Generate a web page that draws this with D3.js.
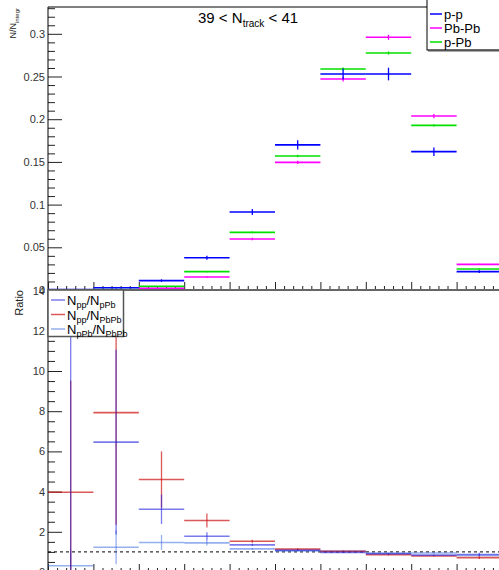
<!DOCTYPE html>
<html>
<head>
<meta charset="utf-8">
<script src="https://cdn.jsdelivr.net/npm/d3@7"></script>
<style>
  body { margin: 0; background: #fff; }
  svg { display: block; font-family: "Liberation Sans", Arial, sans-serif; }
</style>
</head>
<body>
<svg id="main_svg" width="499" height="570"></svg>
<script>
// bins of the multiplicity distribution (no x labels in the original)
const bins = [0, 1, 2, 3, 4, 5, 6, 7, 8, 9];

// top panel: normalised yields
const ppVals = [0.0004, 0.0027, 0.011, 0.0378, 0.0913, 0.170, 0.2529, 0.2529, 0.162, 0.0215];
const ppErr = [0.0004, 0.0008, 0.0015, 0.0023, 0.0035, 0.0055, 0.0065, 0.0074, 0.005, 0.0017];
const pbpbVals = [0.0001, 0.00034, 0.002, 0.0152, 0.0597, 0.1495, 0.247, 0.2959, 0.2037, 0.030];
const pbpbErr = [0.0001, 0.0002, 0.0005, 0.0009, 0.0015, 0.002, 0.0028, 0.003, 0.0025, 0.0008];
const ppbVals = [0.00003, 0.00042, 0.0043, 0.0215, 0.0675, 0.157, 0.2588, 0.2775, 0.1928, 0.0246];
const ppbErr = [0.00003, 0.0002, 0.0004, 0.0007, 0.001, 0.0015, 0.0018, 0.0018, 0.0014, 0.0006];

// bottom panel: ratios
const rPpPpb = [12.8, 6.46, 3.12, 1.78, 1.35, 1.083, 0.977, 0.911, 0.84, 0.874];
const rPpPpbErr = [13.2, 4.6, 0.73, 0.2, 0.06, 0.04, 0.03, 0.03, 0.035, 0.08];
const rPpPbpb = [3.97, 7.93, 4.6, 2.56, 1.53, 1.137, 1.024, 0.855, 0.795, 0.717];
const rPpPbpbErr = [5.55, 5.58, 1.4, 0.35, 0.08, 0.04, 0.03, 0.03, 0.03, 0.07];
const rPpbPbpb = [0.31, 1.23, 1.47, 1.45, 1.15, 1.05, 1.048, 0.938, 0.946, 0.82];
const rPpbPbpbErr = [0.78, 0.85, 0.37, 0.13, 0.04, 0.02, 0.02, 0.02, 0.02, 0.04];

const topTicks = [0, 0.05, 0.1, 0.15, 0.2, 0.25, 0.3];
const ratioTicks = [0, 2, 4, 6, 8, 10, 12, 14];

const svg = d3.select("#main_svg");
const left = 48, right = 502;
const topY0 = 7, topY1 = 290, botY0 = 290, botY1 = 572;

const x = d3.scaleLinear().domain([0, 10]).range([left, right]);
const yTop = d3.scaleLinear().domain([0, 0.3314]).range([topY1, topY0]);
const yBot = d3.scaleLinear().domain([0, 14.03]).range([botY1, botY0]);

const defs = svg.append("defs");
defs.append("clipPath").attr("id", "clipTop")
  .append("rect").attr("x", left).attr("y", topY0).attr("width", right - left).attr("height", topY1 - topY0);
defs.append("clipPath").attr("id", "clipBot")
  .append("rect").attr("x", left).attr("y", botY0).attr("width", right - left).attr("height", botY1 - botY0);

// frame lines
svg.append("line").attr("x1", left).attr("x2", right).attr("y1", topY0).attr("y2", topY0)
  .attr("stroke", "#000").attr("stroke-width", 1);

function yAxisPair(g, scale, majors, minorStep, fmt) {
  const [d0, d1] = scale.domain();
  const minors = d3.range(0, d1 + 1e-9, minorStep).filter(v => !majors.some(m => Math.abs(m - v) < 1e-9));
  g.append("g").attr("transform", `translate(${left},0)`)
    .call(d3.axisLeft(scale).tickValues(minors).tickSize(-7).tickFormat(""))
    .call(a => a.select(".domain").remove());
  g.append("g").attr("transform", `translate(${left},0)`)
    .call(d3.axisLeft(scale).tickValues(majors).tickSize(-14).tickPadding(3).tickFormat(fmt))
    .call(a => a.select(".domain").remove())
    .call(a => a.selectAll("text").attr("font-size", 11).attr("fill", "#333"));
  g.selectAll("line").attr("stroke", "#222");
  g.append("line").attr("x1", left).attr("x2", left)
    .attr("y1", scale.range()[1]).attr("y2", scale.range()[0]).attr("stroke", "#000");
}

function xAxisTicks(g, yPos) {
  const minors = d3.range(0, 10.01, 0.2).filter(v => Math.abs(v - Math.round(v)) > 1e-6);
  g.append("g").attr("transform", `translate(0,${yPos})`)
    .call(d3.axisBottom(x).tickValues(minors).tickSize(-4).tickFormat(""))
    .call(a => a.select(".domain").remove());
  g.append("g").attr("transform", `translate(0,${yPos})`)
    .call(d3.axisBottom(x).tickValues(d3.range(0, 11)).tickSize(-8).tickFormat(""))
    .call(a => a.select(".domain").remove());
  g.selectAll("line").attr("stroke", "#222");
}

yAxisPair(svg.append("g"), yTop, topTicks, 0.01, d3.format("~g"));
yAxisPair(svg.append("g"), yBot, ratioTicks, 0.5, d3.format("d"));
xAxisTicks(svg.append("g"), topY1);
xAxisTicks(svg.append("g"), botY1);

// dashed unity line
svg.append("line").attr("x1", left).attr("x2", right)
  .attr("y1", yBot(1)).attr("y2", yBot(1))
  .attr("stroke", "#000").attr("stroke-dasharray", "3,3");

function drawSeries(g, yScale, vals, errs, color, opacity) {
  const s = g.append("g").attr("stroke", color).attr("stroke-opacity", opacity);
  s.selectAll(".h").data(bins).join("line")
    .attr("x1", d => x(d)).attr("x2", d => x(d + 1))
    .attr("y1", d => yScale(vals[d])).attr("y2", d => yScale(vals[d]))
    .attr("stroke-width", 1.6);
  s.selectAll(".v").data(bins).join("line")
    .attr("x1", d => x(d + 0.5)).attr("x2", d => x(d + 0.5))
    .attr("y1", d => yScale(vals[d] - errs[d])).attr("y2", d => yScale(vals[d] + errs[d]))
    .attr("stroke-width", 1.3);
}

const gTop = svg.append("g").attr("clip-path", "url(#clipTop)");
drawSeries(gTop, yTop, ppbVals, ppbErr, "#00e000", 1);
drawSeries(gTop, yTop, pbpbVals, pbpbErr, "#ff00ff", 1);
drawSeries(gTop, yTop, ppVals, ppErr, "#0000ff", 1);

const gBot = svg.append("g").attr("clip-path", "url(#clipBot)");
drawSeries(gBot, yBot, rPpbPbpb, rPpbPbpbErr, "#3f6fdf", 0.55);
drawSeries(gBot, yBot, rPpPbpb, rPpPbpbErr, "#cc1111", 0.7);
drawSeries(gBot, yBot, rPpPpb, rPpPpbErr, "#2222dd", 0.6);

// separator between pads
svg.append("line").attr("x1", left).attr("x2", right).attr("y1", topY1).attr("y2", topY1)
  .attr("stroke", "#666").attr("stroke-width", 2);

// title
svg.append("text").attr("x", 198).attr("y", 23).attr("font-size", 15).attr("fill", "#000")
  .call(t => {
    t.append("tspan").text("39 < N");
    t.append("tspan").attr("dy", 4).attr("font-size", 10).text("track");
    t.append("tspan").attr("dy", -4).text(" < 41");
  });

// axis titles
svg.append("text").attr("transform", "translate(16,8) rotate(-90)")
  .attr("text-anchor", "end").attr("font-size", 9).attr("fill", "#222")
  .call(t => {
    t.append("tspan").text("N/N");
    t.append("tspan").attr("dy", 3).attr("font-size", 6).text("integr");
  });
svg.append("text").attr("transform", "translate(23,290) rotate(-90)")
  .attr("text-anchor", "end").attr("font-size", 11).attr("fill", "#222").text("Ratio");

// top legend
const legTop = [
  { label: "p-p", color: "#0000ff" },
  { label: "Pb-Pb", color: "#ff00ff" },
  { label: "p-Pb", color: "#00e000" }
];
const lt = svg.append("g");
lt.append("rect").attr("x", 427).attr("y", -1).attr("width", 90).attr("height", 51)
  .attr("fill", "#fff").attr("stroke", "#000").attr("stroke-width", 1);
lt.append("line").attr("x1", 428).attr("x2", 517).attr("y1", 50.5).attr("y2", 50.5)
  .attr("stroke", "#555").attr("stroke-width", 2);
legTop.forEach((d, i) => {
  const yy = 14 + i * 14;
  lt.append("line").attr("x1", 430).attr("x2", 442).attr("y1", yy).attr("y2", yy)
    .attr("stroke", d.color).attr("stroke-width", 1.5);
  lt.append("text").attr("x", 444).attr("y", yy + 5).attr("font-size", 13).attr("fill", "#000").text(d.label);
});

// bottom legend
const legBot = [
  { a: "pp", b: "pPb", color: "#2222dd", op: 0.6 },
  { a: "pp", b: "PbPb", color: "#cc1111", op: 0.7 },
  { a: "pPb", b: "PbPb", color: "#3f6fdf", op: 0.55 }
];
const lb = svg.append("g");
lb.append("rect").attr("x", 48).attr("y", 290).attr("width", 75.5).attr("height", 46.5)
  .attr("fill", "#fff").attr("stroke", "#555").attr("stroke-width", 1.5);
legBot.forEach((d, i) => {
  const yy = 300 + i * 14.5;
  lb.append("line").attr("x1", 51).attr("x2", 65).attr("y1", yy).attr("y2", yy)
    .attr("stroke", d.color).attr("stroke-opacity", d.op).attr("stroke-width", 1.5);
  lb.append("text").attr("x", 67).attr("y", yy + 5).attr("font-size", 13).attr("fill", "#000")
    .call(t => {
      t.append("tspan").text("N");
      t.append("tspan").attr("dy", 3).attr("font-size", 9).text(d.a);
      t.append("tspan").attr("dy", -3).text("/N");
      t.append("tspan").attr("dy", 3).attr("font-size", 9).text(d.b);
    });
});
</script>
</body>
</html>
